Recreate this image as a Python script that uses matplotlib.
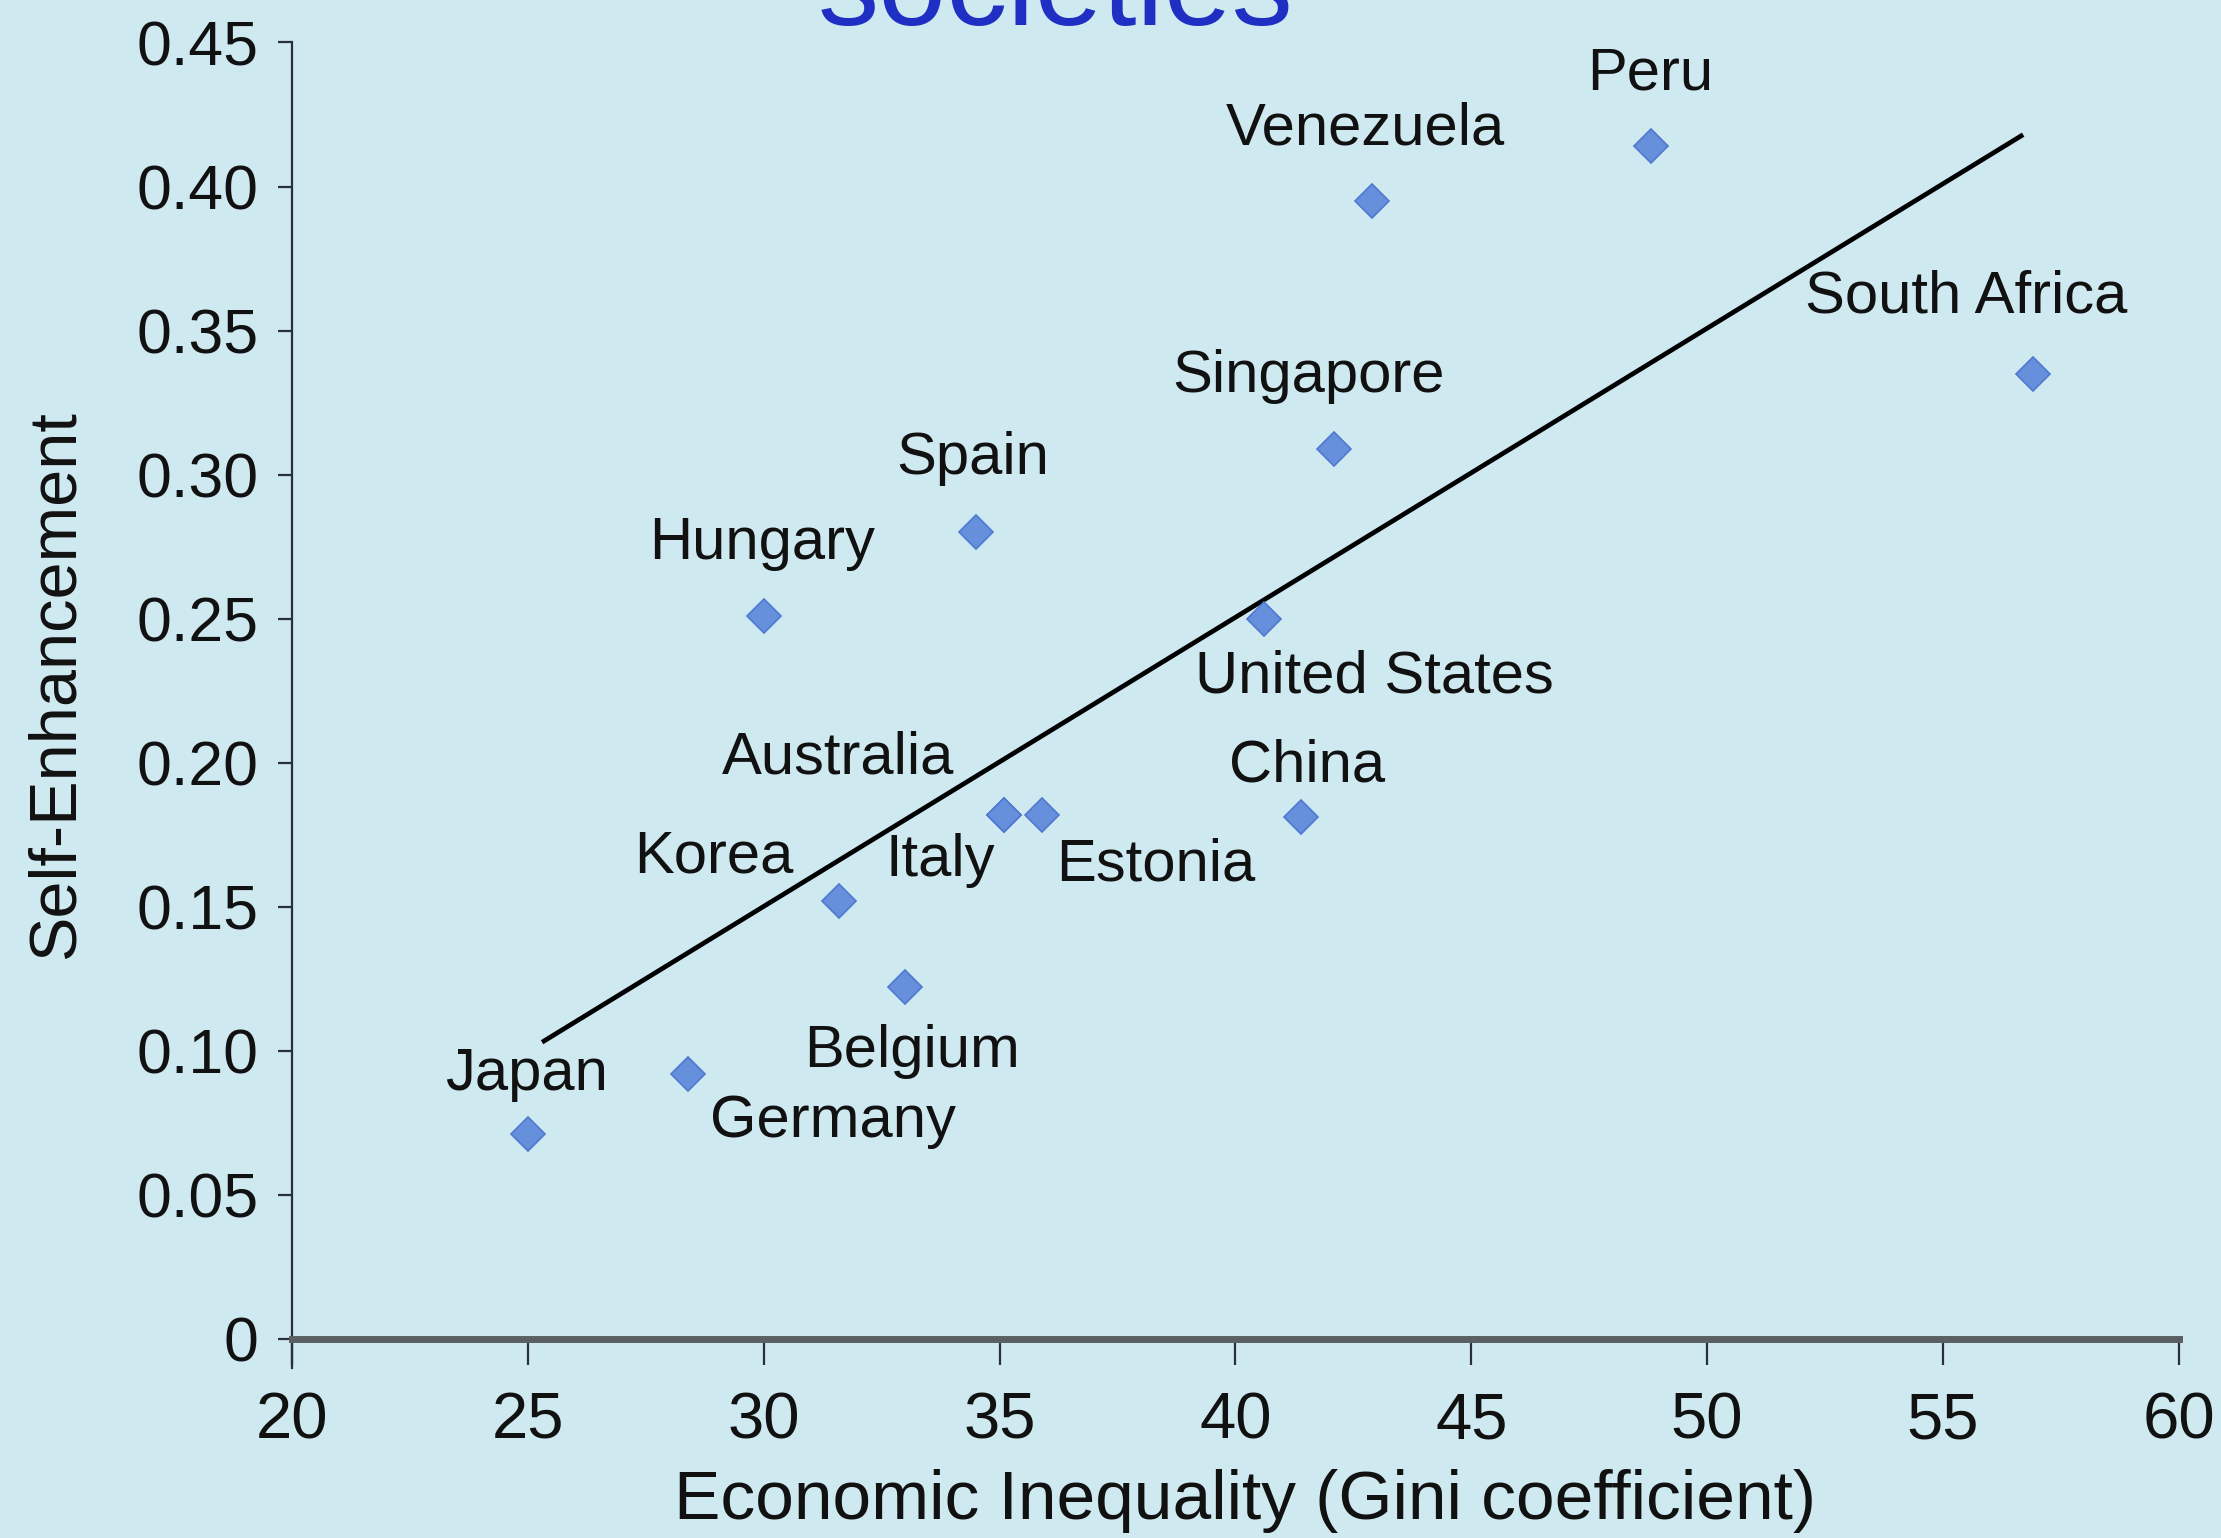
import matplotlib
matplotlib.use("Agg")
import matplotlib.pyplot as plt

# ---------------- data ----------------
countries = ["Japan", "Germany", "Belgium", "Korea", "Australia", "Italy",
             "Estonia", "China", "United States", "Hungary", "Spain",
             "Singapore", "Venezuela", "Peru", "South Africa"]
gini = [25.0, 28.4, 33.0, 31.6, 35.1, 35.1, 35.9, 41.4, 40.6, 30.0, 34.5,
        42.1, 42.9, 48.8, 56.9]
self_enh = [0.071, 0.092, 0.122, 0.152, 0.182, 0.182, 0.182, 0.181, 0.250,
            0.251, 0.280, 0.309, 0.395, 0.414, 0.335]
trend_x = [25.3, 56.7]
trend_y = [0.103, 0.418]
x_ticks = [20, 25, 30, 35, 40, 45, 50, 55, 60]
y_ticks = [0, 0.05, 0.10, 0.15, 0.20, 0.25, 0.30, 0.35, 0.40, 0.45]
y_tick_labels = ["0", "0.05", "0.10", "0.15", "0.20", "0.25", "0.30",
                 "0.35", "0.40", "0.45"]
x_label = "Economic Inequality (Gini coefficient)"
y_label = "Self-Enhancement"
title = "societies"

# label offsets (points) relative to each marker
label_offsets = {
    "Japan": (-1, 43), "Germany": (104, -34), "Belgium": (5, -46),
    "Korea": (-90, 32), "Australia": (-120, 41), "Italy": (-46, -33),
    "Estonia": (82, -36), "China": (4, 37), "United States": (80, -42),
    "Hungary": (-1, 52), "Spain": (-2, 53), "Singapore": (-19, 52),
    "Venezuela": (-5, 52), "Peru": (0, 52), "South Africa": (-48, 55),
}

plt.rcParams["font.family"] = ["Liberation Sans", "DejaVu Sans"]
BG = "#cfe9f0"
TXT = "#111111"

fig = plt.figure(figsize=(22.21, 15.38), dpi=100, facecolor=BG)
ax = fig.add_axes([0.1315, 0.1294, 0.981 - 0.1315, 0.9724 - 0.1294])
ax.set_facecolor(BG)

ax.plot(trend_x, trend_y, color="black", lw=3.4, solid_capstyle="butt", zorder=2)
ax.plot(gini, self_enh, linestyle="none", marker="D", ms=17,
        mfc="#6790dc", mec="#4f78d0", mew=1.2, zorder=3)

for name, xv, yv in zip(countries, gini, self_enh):
    dx, dy = label_offsets[name]
    ax.annotate(name, (xv, yv), xytext=(dx, dy), textcoords="offset points",
                ha="center", va="center", fontsize=43, color=TXT)

ax.set_xlim(20, 60)
ax.set_ylim(0, 0.45)
ax.set_xticks(x_ticks)
ax.set_xticklabels([str(t) for t in x_ticks])
ax.set_yticks(y_ticks)
ax.set_yticklabels(y_tick_labels)

for s in ["top", "right"]:
    ax.spines[s].set_visible(False)
ax.spines["bottom"].set_linewidth(5)
ax.spines["bottom"].set_color("#5a5f62")
ax.spines["left"].set_linewidth(1.6)
ax.spines["left"].set_color("#2a3035")
ax.spines["left"].set_bounds(-0.01, 0.45)

ax.tick_params(axis="x", direction="out", length=19, width=1.6, color="#2a3035",
               pad=19, labelsize=47, labelcolor=TXT)
ax.tick_params(axis="y", direction="out", length=10, width=1.6, color="#2a3035",
               pad=14, labelsize=45, labelcolor=TXT)

ax.set_xlabel(x_label, fontsize=50, color=TXT)
ax.xaxis.label.set_va("center")
ax.xaxis.set_label_coords(0.505, -0.125)
ax.set_ylabel(y_label, fontsize=48, color=TXT)
ax.yaxis.label.set_va("center")
ax.yaxis.set_label_coords(-0.125, 0.505)

fig.text(0.475, 1 - 25 / 1538, title, ha="center", va="baseline",
         fontsize=88, color="#1f2fc4")

fig.savefig("out.png", dpi=100, facecolor=BG)
